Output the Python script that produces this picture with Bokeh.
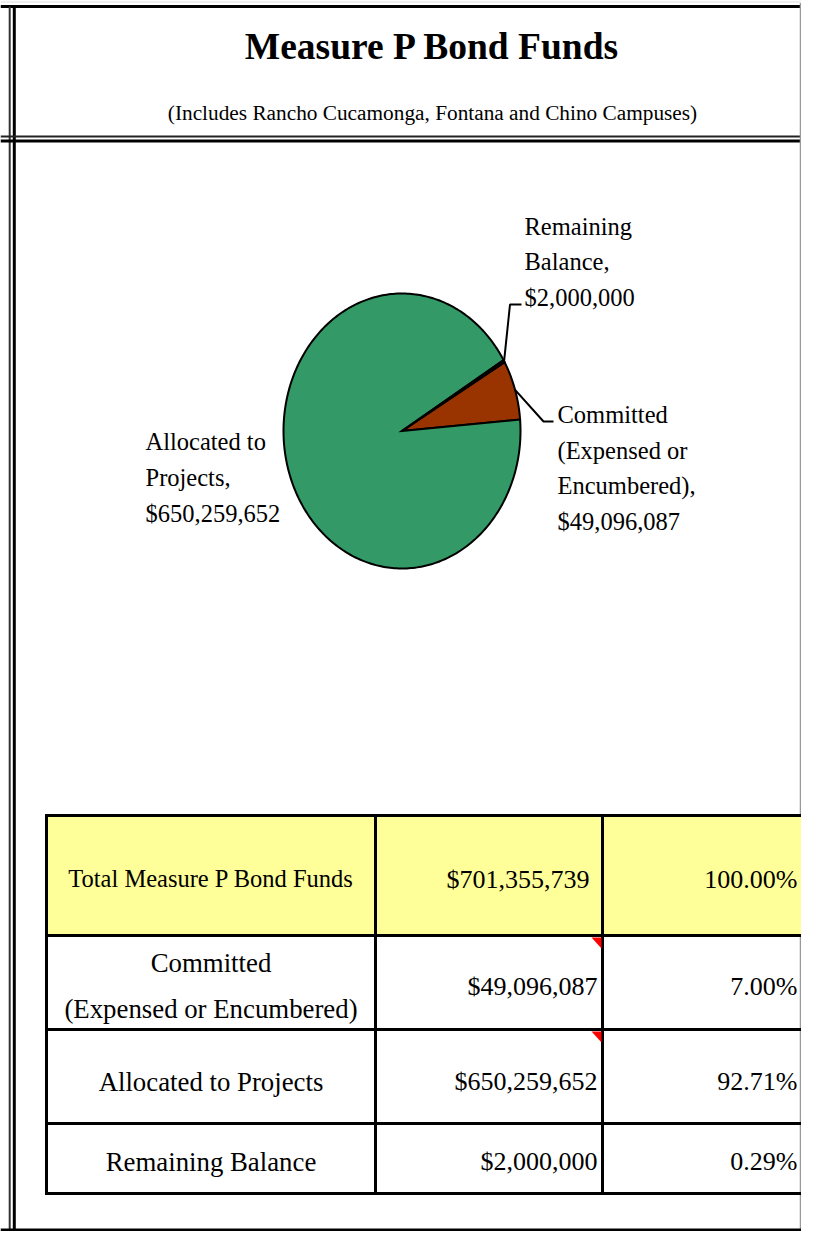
import numpy as np
from bokeh.plotting import figure
from bokeh.models import Range1d
from bokeh.core.properties import value
from bokeh.embed import file_html
from bokeh.resources import INLINE

# ---------------- data ----------------
title = "Measure P Bond Funds"
subtitle = "(Includes Rancho Cucamonga, Fontana and Chino Campuses)"
categories = ["Committed (Expensed or Encumbered)", "Allocated to Projects", "Remaining Balance"]
amounts = [49096087, 650259652, 2000000]
total_label = "Total Measure P Bond Funds"
total_amount = 701355739
percents = [7.00, 92.71, 0.29]
total_percent = 100.00
slice_colors = ["#993300", "#339966", "#1c1c48"]
pie_label_lines = [["Committed", "(Expensed or", "Encumbered),"],
                   ["Allocated to", "Projects,"],
                   ["Remaining", "Balance,"]]
table_label_lines = [["Committed", "(Expensed or Encumbered)"],
                     ["Allocated to Projects"],
                     ["Remaining Balance"]]

FONT = value("Liberation Serif")


def money(v):
    return "${:,}".format(v)


# ---------------- figure ----------------
W, H = 801, 1231
p = figure(width=W, height=H, x_range=Range1d(0, W), y_range=Range1d(H, 0),
           output_backend="svg", toolbar_location=None, min_border=0,
           x_axis_location=None, y_axis_location=None)
p.grid.visible = False
p.outline_line_color = None
p.background_fill_color = "white"
p.border_fill_color = "white"

# ---------------- page frame ----------------
p.quad(left=[0], right=[W], top=[0], bottom=[2.5], fill_color="#eeeeee", line_color=None)
p.segment(x0=[0], y0=[6], x1=[W], y1=[6], line_color="black", line_width=3)
p.segment(x0=[9.2], y0=[6], x1=[9.2], y1=[H], line_color="#333333", line_width=2)
p.segment(x0=[13.8], y0=[6], x1=[13.8], y1=[H], line_color="black", line_width=3)
p.segment(x0=[0], y0=[136], x1=[W], y1=[136], line_color="#222222", line_width=2)
p.segment(x0=[0], y0=[140.4], x1=[W], y1=[140.4], line_color="black", line_width=3)
p.segment(x0=[800], y0=[2.5], x1=[800], y1=[H], line_color="#999999", line_width=1.5)
p.segment(x0=[0], y0=[1229.5], x1=[W], y1=[1229.5], line_color="black", line_width=3)

# ---------------- titles ----------------
p.text(x=[432], y=[45.5], text=[title], text_font=FONT, text_font_size="37.5px",
       text_font_style="bold", text_align="center", text_baseline="alphabetic", text_color="black")
p.text(x=[432], y=[112], text=[subtitle], text_font=FONT, text_font_size="21.3px",
       text_align="center", text_baseline="alphabetic", text_color="black")

# ---------------- pie (elliptical) ----------------
cx, cy, rx, ry = 401.5, 430.5, 118.5, 137.5
first_slice_angle = 60.0  # degrees clockwise from 12 o'clock
start = np.deg2rad(90.0 - first_slice_angle)
fracs = np.array(amounts, dtype=float) / float(total_amount)
xs, ys, mids = [], [], []
a0 = start
for f in fracs:
    a1 = a0 - f * 2 * np.pi
    n = max(4, int(abs(a1 - a0) / (2 * np.pi) * 360))
    t = np.linspace(a0, a1, n)
    xs.append([cx] + list(cx + rx * np.cos(t)) + [cx])
    ys.append([cy] + list(cy - ry * np.sin(t)) + [cy])
    mids.append((a0 + a1) / 2)
    a0 = a1
p.patches(xs, ys, fill_color=slice_colors, line_color="black", line_width=2, line_join="miter")

# leader lines (Committed, Remaining)
mc = mids[0]
mr = mids[2]
p.line([cx + rx * np.cos(mc), 543, 553], [cy - ry * np.sin(mc), 421, 421],
       line_color="black", line_width=2)
p.line([cx + rx * np.cos(mr), 509.5, 521], [cy - ry * np.sin(mr), 304, 304],
       line_color="black", line_width=2)

# pie labels (y = visual centre of each line)
lab_specs = [  # (x, first line, spacing)
    (557, 414, 35.7),
    (145, 441, 36),
    (524, 226, 35.3),
]
lx, ly, lt = [], [], []
for i, (x0, y0, dy) in enumerate(lab_specs):
    lines = pie_label_lines[i] + [money(amounts[i])]
    for k, s in enumerate(lines):
        lx.append(x0)
        ly.append(y0 + k * dy)
        lt.append(s)
p.text(x=lx, y=ly, text=lt, text_font=FONT, text_font_size="24.5px",
       text_align="left", text_baseline="alphabetic", text_color="black")

# ---------------- table ----------------
tx0, tx1, tx2, tx3 = 46, 375, 602, W
row_y = [815, 935, 1029, 1123, 1193]
p.quad(left=[tx0], right=[tx3], top=[row_y[0]], bottom=[row_y[1]],
       fill_color="#FFFF99", line_color=None)
hx0, hx1, hy = [], [], []
for yy in row_y:
    hx0.append(tx0 - 1.5); hx1.append(tx3); hy.append(yy)
p.segment(x0=hx0, y0=hy, x1=hx1, y1=hy, line_color="black", line_width=3)
p.segment(x0=[tx0, tx1, tx2], y0=[row_y[0]] * 3, x1=[tx0, tx1, tx2], y1=[row_y[-1]] * 3,
          line_color="black", line_width=3)

# comment indicators
p.patches([[591, 601, 601], [591, 601, 601]], [[937, 937, 948], [1031, 1031, 1042]],
          fill_color="red", line_color=None)

# header row
c1 = (tx0 + tx1) / 2
p.text(x=[c1], y=[878], text=[total_label], text_font=FONT, text_font_size="24.5px",
       text_align="center", text_baseline="alphabetic", text_color="black")
p.text(x=[589], y=[879], text=[money(total_amount)], text_font=FONT, text_font_size="26px",
       text_align="right", text_baseline="alphabetic", text_color="black")
p.text(x=[797], y=[879], text=["{:.2f}%".format(total_percent)], text_font=FONT,
       text_font_size="26px", text_align="right", text_baseline="alphabetic", text_color="black")

# body rows
label_centres = [[962, 1008], [1081], [1161]]
value_centres = [986, 1081, 1161]
bx, by, bt = [], [], []
for i in range(3):
    for k, s in enumerate(table_label_lines[i]):
        bx.append(c1); by.append(label_centres[i][k]); bt.append(s)
p.text(x=bx, y=by, text=bt, text_font=FONT, text_font_size="26.8px",
       text_align="center", text_baseline="alphabetic", text_color="black")
p.text(x=[597] * 3, y=value_centres, text=[money(a) for a in amounts], text_font=FONT,
       text_font_size="26px", text_align="right", text_baseline="alphabetic", text_color="black")
p.text(x=[797] * 3, y=value_centres, text=["{:.2f}%".format(v) for v in percents], text_font=FONT,
       text_font_size="26px", text_align="right", text_baseline="alphabetic", text_color="black")

open("out.html", "w").write(file_html(p, INLINE))
